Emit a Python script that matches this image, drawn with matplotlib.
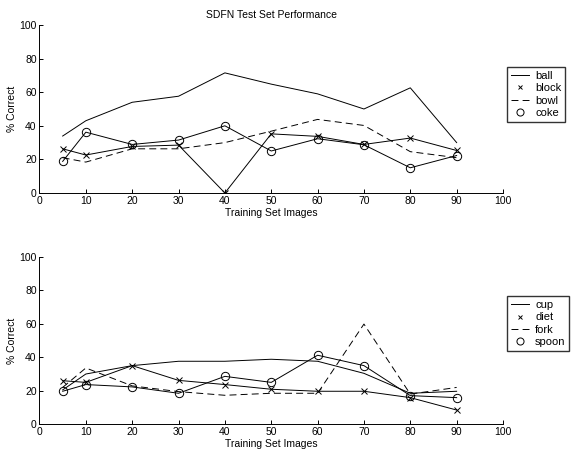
import matplotlib
matplotlib.use('Agg')
import matplotlib.pyplot as plt

plt.rcParams['font.family'] = ['Liberation Sans', 'DejaVu Sans']
plt.rcParams['font.size'] = 7.5
plt.rcParams['lines.scale_dashes'] = False

# training set sizes
images = [5, 10, 20, 30, 40, 50, 60, 70, 80, 90]

# top panel
ball = [33.9, 43.0, 54.0, 57.6, 71.5, 64.8, 59.0, 50.0, 62.6, 30.0]
block = [26.3, 22.6, 27.7, 28.5, 0.0, 35.2, 33.7, 28.9, 32.7, 25.3]
bowl = [21.0, 18.4, 26.3, 26.3, 30.0, 36.8, 43.8, 40.2, 24.6, 21.0]
coke = [18.8, 36.2, 28.9, 31.5, 40.0, 25.0, 32.3, 28.7, 15.0, 22.3]

# bottom panel
cup = [20.5, 30.0, 35.0, 37.6, 37.6, 38.8, 37.6, 30.4, 18.5, 19.7]
diet = [26.0, 25.0, 35.0, 26.2, 23.7, 20.9, 19.7, 19.7, 15.9, 8.5]
fork = [22.0, 33.6, 22.9, 19.5, 17.3, 18.5, 18.5, 59.8, 18.0, 22.0]
spoon = [19.7, 23.7, 22.3, 18.5, 28.6, 25.0, 41.2, 35.0, 17.1, 15.9]

lw = 0.7


def panel(ax, names, solid, cross, dashed, circle, leg_y):
    # MATLAB style: marker-only series get the legend, lines drawn after
    ax.plot(images, solid, '-', color='k', lw=lw, label=names[0])
    ax.plot(images, cross, 'x', color='k', ms=4, mew=lw, label=names[1])
    ax.plot(images, dashed, '--', color='k', lw=lw, dashes=(5, 3), label=names[2])
    ax.plot(images, circle, 'o', color='k', ms=6, mew=lw, mfc='none', label=names[3])
    ax.plot(images, cross, '-', color='k', lw=lw)
    ax.plot(images, circle, '-', color='k', lw=lw)

    ax.set_xlim(0, 100)
    ax.set_ylim(0, 100)
    ax.set_xticks(range(0, 101, 10))
    ax.set_yticks(range(0, 101, 20))
    ax.spines['top'].set_visible(False)
    ax.spines['right'].set_visible(False)
    ax.spines['left'].set_linewidth(lw)
    ax.spines['bottom'].set_linewidth(lw)
    ax.tick_params(direction='in', length=3, width=lw, pad=2)
    ax.set_xlabel('Training Set Images', labelpad=1.5)
    ax.set_ylabel('% Correct', labelpad=2)
    leg = ax.legend(loc='upper left', bbox_to_anchor=(1.008, leg_y),
                    frameon=True, fancybox=False, borderaxespad=0,
                    handlelength=1.7, handletextpad=0.5, labelspacing=0.22,
                    borderpad=0.35, fontsize=8, markerscale=0.85)
    leg.get_frame().set_edgecolor('k')
    leg.get_frame().set_linewidth(1.0)


fig = plt.figure(figsize=(5.74, 4.57), dpi=100)
ax1 = fig.add_axes([0.0688, 0.5777, 0.8075, 0.3676])
ax2 = fig.add_axes([0.0688, 0.0716, 0.8075, 0.3667])

panel(ax1, ['ball', 'block', 'bowl', 'coke'], ball, block, bowl, coke, 0.75)
panel(ax2, ['cup', 'diet', 'fork', 'spoon'], cup, diet, fork, spoon, 0.765)
ax1.set_title('SDFN Test Set Performance', fontsize=7.5, pad=5)

fig.savefig('out.png', dpi=100)
